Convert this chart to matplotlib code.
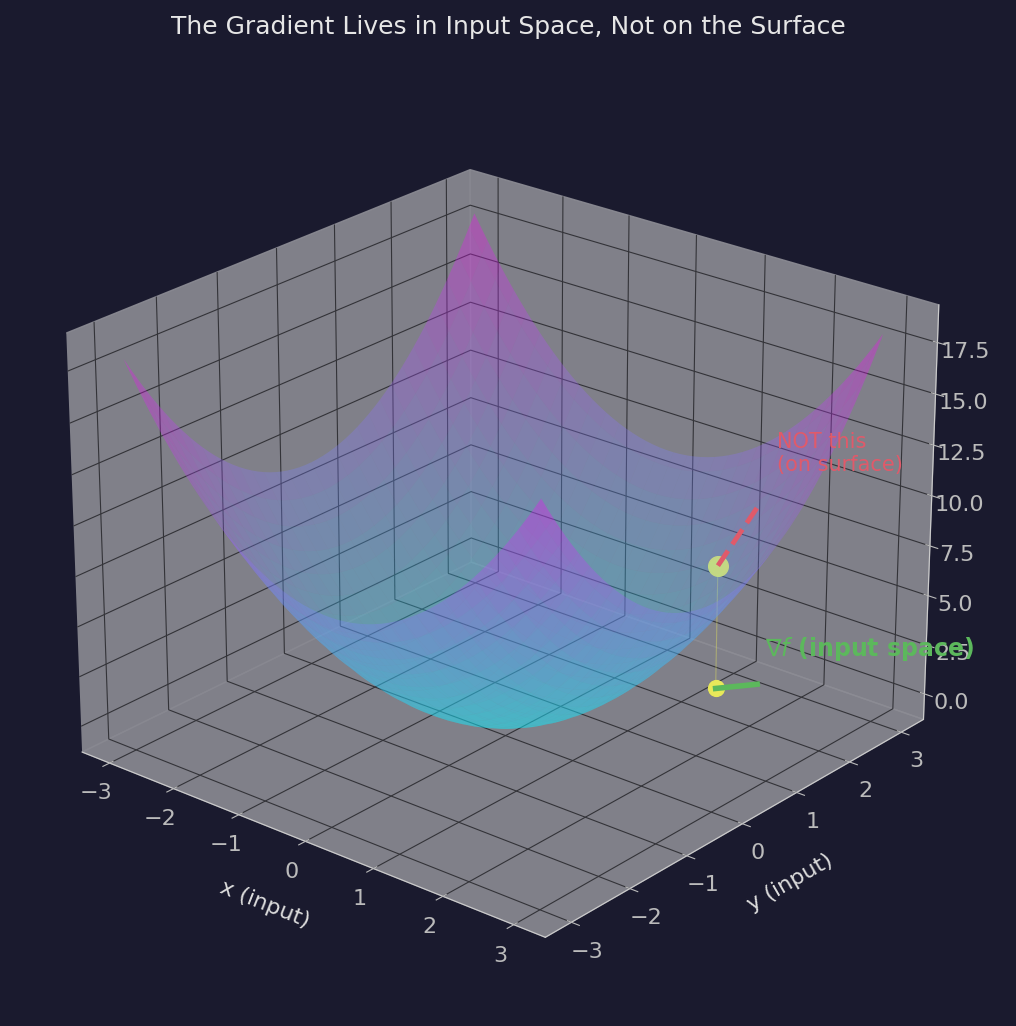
import numpy as np
import matplotlib
matplotlib.use("Agg")
import matplotlib.pyplot as plt

BG = "#1a1a2e"
x_range = (-3, 3)
point_xy = (1.5, 2.0)
grad_scale = 0.1
red_dir = (0.12, 0.22)

fig = plt.figure(figsize=(10.16, 10.26), dpi=100, facecolor=BG)
ax = fig.add_axes([0.02, -0.015, 0.93, 0.97], projection="3d", facecolor=BG)

xs = np.linspace(*x_range, 60)
X, Y = np.meshgrid(xs, xs)
Z = X**2 + Y**2
ax.plot_surface(X, Y, Z, cmap="cool", alpha=0.3, linewidth=0, antialiased=True)

x0, y0 = point_xy
z0 = x0**2 + y0**2
gx, gy = 2 * x0, 2 * y0

# point on surface and its shadow in the input plane
ax.scatter([x0], [y0], [z0], color="#f0f050", s=200, depthshade=False, zorder=20)
ax.scatter([x0], [y0], [0], color="#e8e85a", s=130, depthshade=False, zorder=20)
ax.plot([x0, x0], [y0, y0], [0, z0], color="#e8e85a", lw=0.8, alpha=0.4)

# gradient in input space
ax.plot([x0, x0 + gx * grad_scale], [y0, y0 + gy * grad_scale], [0, 0],
        color="#5cb85c", lw=4, zorder=11)
ax.text(x0 + 0.1, y0 + 0.8, 0.6, r"$\nabla f$ (input space)", color="#5cb85c",
        fontsize=17, fontweight="bold", zorder=30)

# wrong: arrow along the surface
x1, y1 = x0 + red_dir[0] * 2, y0 + red_dir[1] * 2
ax.plot([x0, x1], [y0, y1], [z0, x1**2 + y1**2], color="#e05a6a", lw=3.5,
        ls="--", zorder=11)
ax.text(x1 + 0.1, y1 + 0.2, 10.5, "NOT this\n(on surface)", color="#e05a6a",
        fontsize=15, zorder=30)

ax.set_xlabel("x (input)", color="#dddddd", fontsize=16, labelpad=14)
ax.set_ylabel("y (input)", color="#dddddd", fontsize=16, labelpad=14)
ax.set_xticks(range(-3, 4))
ax.set_yticks(range(-3, 4))
ax.tick_params(colors="#bbbbbb", labelsize=16)
for axis in (ax.xaxis, ax.yaxis, ax.zaxis):
    axis.set_pane_color((0.55, 0.55, 0.58, 0.9))
    axis._axinfo["grid"]["color"] = (0.2, 0.2, 0.22, 1)
    axis.line.set_color("#cccccc")
ax.view_init(elev=24, azim=-50)
fig.suptitle("The Gradient Lives in Input Space, Not on the Surface",
             color="#e6e6e6", fontsize=18, y=0.985)
fig.savefig("out.png", facecolor=BG)
